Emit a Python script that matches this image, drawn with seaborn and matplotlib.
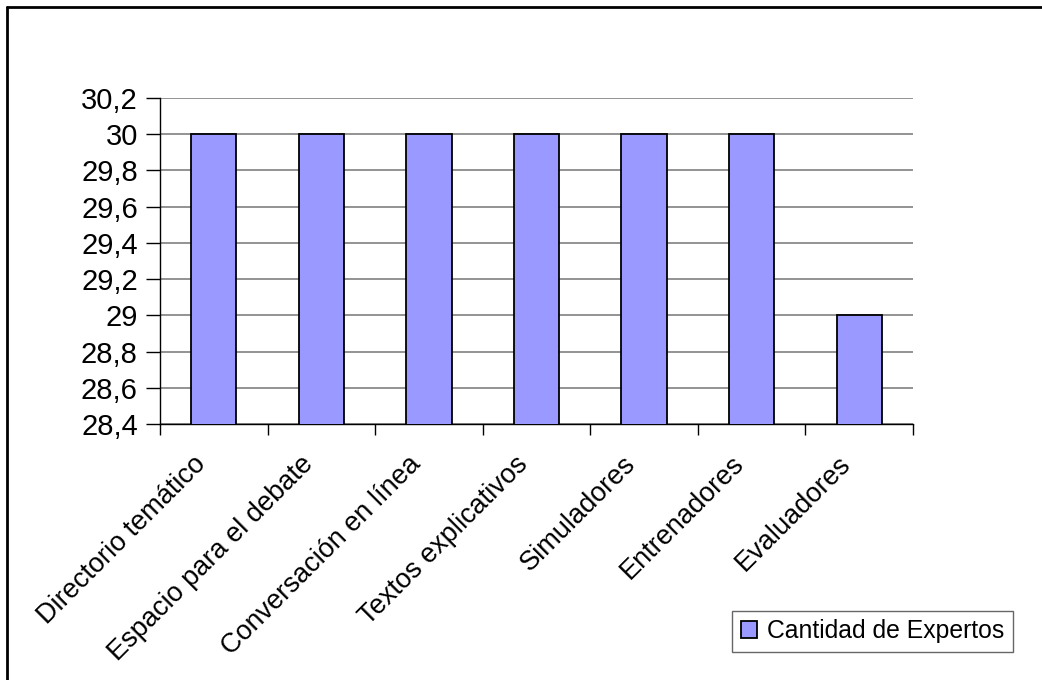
import matplotlib
matplotlib.use("Agg")
import matplotlib.pyplot as plt
from matplotlib.lines import Line2D
from matplotlib.ticker import FixedLocator, FuncFormatter
from matplotlib.transforms import ScaledTranslation
import seaborn as sns

categories = [
    "Directorio temático",
    "Espacio para el debate",
    "Conversación en línea",
    "Textos explicativos",
    "Simuladores",
    "Entrenadores",
    "Evaluadores",
]
expertos = [30, 30, 30, 30, 30, 30, 29]
y_ticks = [28.4, 28.6, 28.8, 29.0, 29.2, 29.4, 29.6, 29.8, 30.0, 30.2]
series_name = "Cantidad de Expertos"


def main() -> None:
    sns.set_theme(style="white")
    plt.rcParams["font.family"] = ["Liberation Sans", "DejaVu Sans"]
    plt.rcParams.update({
        "text.color": "black", "axes.labelcolor": "black",
        "xtick.color": "black", "ytick.color": "black",
    })

    fig = plt.figure(figsize=(10.42, 6.80), dpi=100)
    ax = fig.add_axes([160 / 1042, 1 - 424 / 680, 753 / 1042, 326 / 680])

    sns.barplot(
        x=categories, y=expertos, color="#9999FF", saturation=1,
        edgecolor="black", linewidth=1.3, width=0.42, ax=ax, zorder=3,
    )

    ax.set_ylim(28.4, 30.2)
    ax.set_xlim(-0.5, len(categories) - 0.5)
    ax.yaxis.set_major_locator(FixedLocator(y_ticks))
    ax.yaxis.set_major_formatter(
        FuncFormatter(lambda v, _: f"{v:g}".replace(".", ","))
    )
    ax.grid(axis="y", color="#808080", linewidth=1.2, zorder=0)
    ax.set_axisbelow(True)

    for side in ("top", "right"):
        ax.spines[side].set_visible(False)
    for side in ("left", "bottom"):
        ax.spines[side].set_color("black")
        ax.spines[side].set_linewidth(1.0)

    ax.tick_params(axis="y", which="major", left=True, direction="out",
                   length=10, width=1, color="black", labelsize=21, pad=6)
    ax.tick_params(axis="x", which="major", bottom=True, length=0,
                   labelsize=19.5, pad=26)
    ax.xaxis.set_minor_locator(FixedLocator([i - 0.5 for i in range(len(categories) + 1)]))
    ax.tick_params(axis="x", which="minor", bottom=True, direction="out",
                   length=8, width=1, color="black")
    shift = ScaledTranslation(-12 / 100, 0, fig.dpi_scale_trans)
    for lab in ax.get_xticklabels():
        lab.set_rotation(45)
        lab.set_ha("right")
        lab.set_va("center")
        lab.set_rotation_mode("anchor")
        lab.set_transform(lab.get_transform() + shift)

    handle = plt.Rectangle((0, 0), 1, 1, facecolor="#9999FF",
                           edgecolor="black", linewidth=1.3)
    leg = fig.legend(
        [handle], [series_name], loc="lower right",
        bbox_to_anchor=(1013 / 1042, 1 - 652 / 680), fontsize=17.8,
        frameon=True, fancybox=False, handlelength=0.65, handleheight=0.65,
        handletextpad=0.4, borderpad=0.35, borderaxespad=0,
    )
    leg.get_frame().set_edgecolor("#404040")
    leg.get_frame().set_linewidth(1.0)

    # outer border of the chart area (cut at right and bottom)
    fig.add_artist(Line2D([7 / 1042, 7 / 1042], [0, 1 - 7 / 680],
                          color="black", linewidth=2, transform=fig.transFigure))
    fig.add_artist(Line2D([7 / 1042, 1], [1 - 7 / 680, 1 - 7 / 680],
                          color="black", linewidth=2, transform=fig.transFigure))

    fig.savefig("out.png", dpi=100, facecolor="white")
    plt.close(fig)


if __name__ == "__main__":
    main()
